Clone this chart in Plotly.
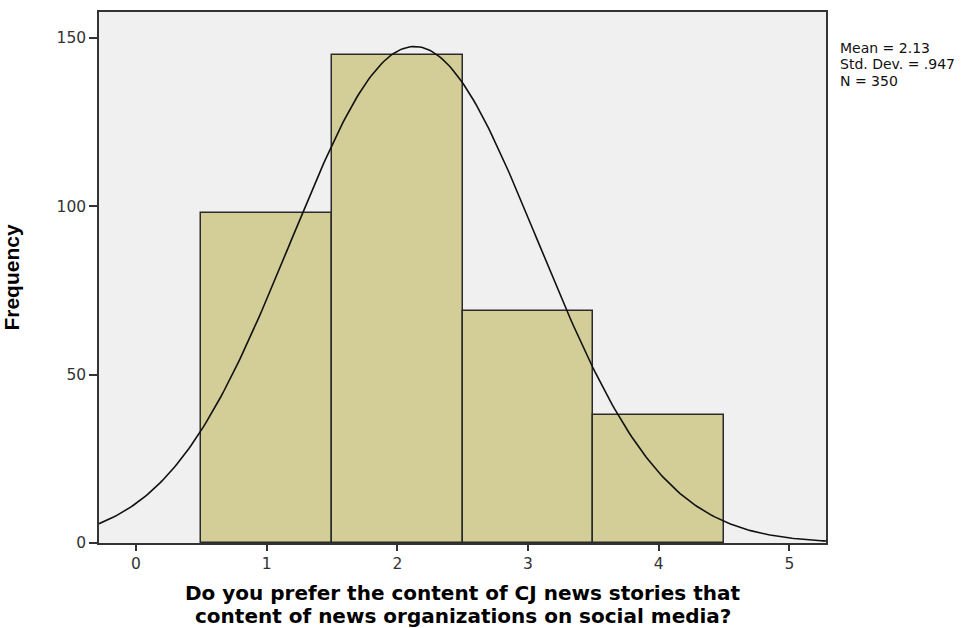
import numpy as np
import plotly.graph_objects as go

categories = [1, 2, 3, 4]
frequencies = [98, 145, 69, 38]
mean_val = 2.13
std_dev = 0.947
n_total = 350
x_ticks = [0, 1, 2, 3, 4, 5]
y_ticks = [0, 50, 100, 150]
x_title_lines = ["Do you prefer the content of CJ news stories that",
                 "content of news organizations on social media?"]
y_title = "Frequency"

fig = go.Figure()
fig.add_trace(go.Bar(
    x=categories, y=frequencies, width=1,
    marker=dict(color="#d3cd98", line=dict(color="#2a2a2a", width=1.5)),
    hoverinfo="skip", showlegend=False,
))

# fitted normal curve from the stated statistics (bin width 1)
xs = np.linspace(-0.283, 5.28, 300)
ys = n_total * 1.0 / (std_dev * np.sqrt(2 * np.pi)) * np.exp(-0.5 * ((xs - mean_val) / std_dev) ** 2)
fig.add_trace(go.Scatter(x=xs, y=ys, mode="lines", line=dict(color="#111111", width=1.6),
                         hoverinfo="skip", showlegend=False))

PLOT_TOP, PLOT_BOTTOM = 10, 543
H = PLOT_BOTTOM - PLOT_TOP


def py(y_px):
    return (PLOT_BOTTOM - y_px) / H


fig.update_layout(
    width=977, height=628,
    margin=dict(l=99, r=151, t=PLOT_TOP, b=628 - PLOT_BOTTOM),
    paper_bgcolor="white", plot_bgcolor="#f0f0f0",
    bargap=0,
    font=dict(family="DejaVu Sans, Liberation Sans, sans-serif", size=16, color="#333"),
)
fig.update_xaxes(
    range=[-0.283, 5.28], tickvals=x_ticks, ticks="outside", ticklen=6, tickwidth=1.5,
    tickcolor="#333", showline=True, linecolor="#333", linewidth=1.5, mirror=True,
    showgrid=False, zeroline=False, tickfont=dict(size=15.5),
)
fig.update_yaxes(
    range=[0, 157.7], tickvals=y_ticks, ticks="outside", ticklen=8, tickwidth=1.5,
    tickcolor="#333", showline=True, linecolor="#333", linewidth=1.5, mirror=True,
    showgrid=False, zeroline=False, tickfont=dict(size=15.5),
    title=dict(text=f"<b>{y_title}</b>",
               font=dict(family="Liberation Sans, Arial, sans-serif", size=21, color="#000"),
               standoff=32),
)

for t, ypx in zip(x_title_lines, [593, 616.5]):
    fig.add_annotation(text=f"<b>{t}</b>", xref="paper", yref="paper", x=0.5, y=py(ypx),
                       xanchor="center", yanchor="middle", showarrow=False,
                       font=dict(family="DejaVu Sans, Verdana, sans-serif", size=20, color="#000"))

stats = [f"Mean = {mean_val:.2f}", f"Std. Dev. = {str(std_dev)[1:]}", f"N = {n_total}"]
for t, ypx in zip(stats, [46, 62.5, 79]):
    fig.add_annotation(text=t, xref="paper", yref="paper", x=(838 - 99) / 727, y=py(ypx),
                       xanchor="left", yanchor="middle", showarrow=False,
                       font=dict(family="DejaVu Sans, Liberation Sans, sans-serif", size=14, color="#111"))

fig.write_html("out.html", config={"displayModeBar": False},
               post_script="document.body.style.margin='0';")
